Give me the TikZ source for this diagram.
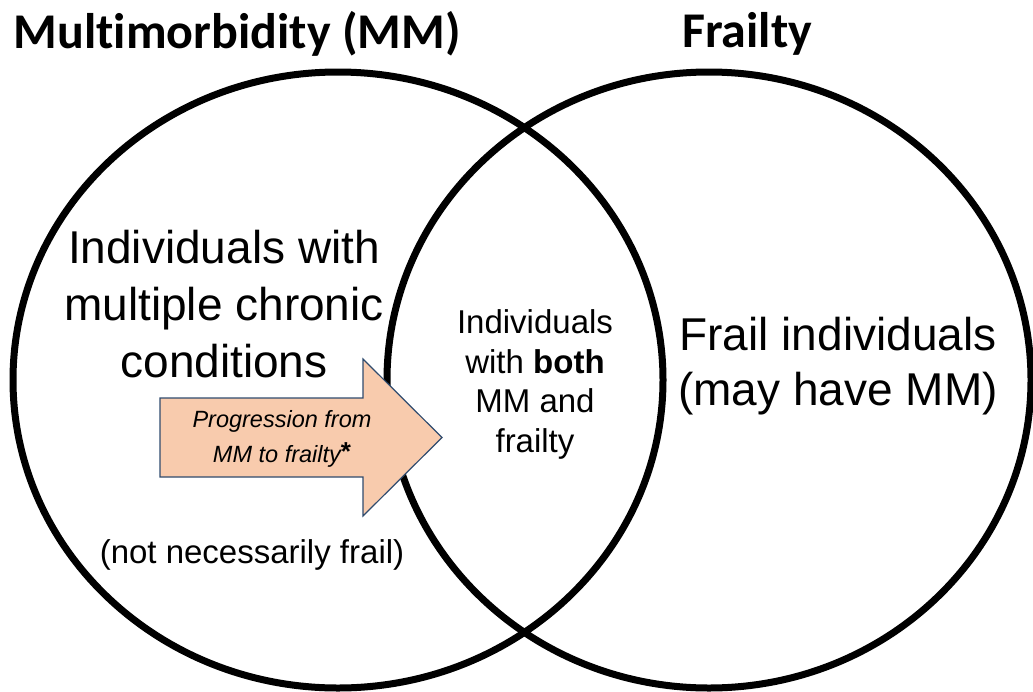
\documentclass[tikz,border=0pt]{standalone}
\usepackage{fontspec}
\setmainfont{Liberation Sans}
\newfontfamily\titlefont[Ligatures={NoCommon,NoRequired,NoContextual}]{Carlito}
\definecolor{arrowfill}{HTML}{F8CBAD}
\definecolor{arrowedge}{HTML}{2F4B6E}
\begin{document}
\begin{tikzpicture}[x=1pt,y=-1pt,
  ring/.style={draw=black, line width=7pt},
  heading/.style={font=\titlefont\bfseries\fontsize{50}{60}\selectfont, anchor=base, inner sep=0pt},
  bigtext/.style={font=\fontsize{46}{57}\selectfont, align=center, inner sep=0pt, anchor=base},
  smalltext/.style={font=\fontsize{33}{39.5}\selectfont, align=center, inner sep=0pt, anchor=base},
  arrowtext/.style={font=\itshape\fontsize{23.5}{35}\selectfont, align=center, inner sep=0pt, anchor=base},
  progress/.style={fill=arrowfill, draw=arrowedge, line width=1.2pt, line join=miter}
]
\useasboundingbox (0,0) rectangle (1033,691);

% the two overlapping sets
\draw[ring] (338,380) ellipse [x radius=325pt, y radius=308pt];
\draw[ring] (709,380) ellipse [x radius=322pt, y radius=308pt];

% block arrow pointing into the overlap
\draw[progress] (160,398) -- (363,398) -- (363,359) -- (442,437.5)
  -- (363,516) -- (363,477) -- (160,477) -- cycle;

% headings
\node[heading] (mmtitle) at (237,48) {Multimorbidity (MM)};
\node[heading] (frtitle) at (747,47) {Frailty};

% set labels (anchored at the baseline of the last line)
\node[bigtext] (mmlabel) at (224,377) {Individuals with\\multiple chronic\\conditions};
\node[smalltext] (mmnote) at (252,563) {(not necessarily frail)};
\node[bigtext, font=\fontsize{46}{55}\selectfont] (frlabel) at (838,405) {Frail individuals\\(may have MM)};
\node[smalltext] (both) at (535,452) {Individuals\\with \textbf{both}\\MM and\\frailty};
\node[arrowtext] (prog) at (282,462) {Progression from\\MM to frailty\raisebox{2pt}{\upshape\bfseries\fontsize{26}{26}\selectfont *}};
\end{tikzpicture}
\end{document}
